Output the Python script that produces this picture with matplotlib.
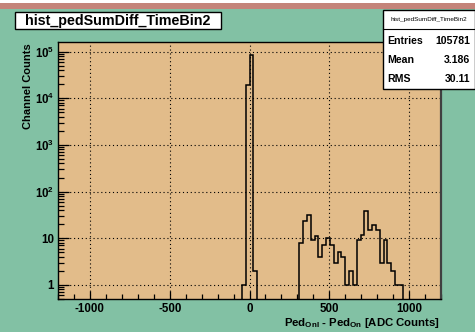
import numpy as np
import matplotlib
matplotlib.use('Agg')
import matplotlib.pyplot as plt
from matplotlib.patches import Rectangle
from matplotlib.lines import Line2D
from matplotlib.ticker import FixedLocator, FixedFormatter, LogLocator, NullFormatter, MultipleLocator

# histogram binning: 100 bins from -1200 to 1200 (width 24)
x_min, x_max, n_bins = -1200, 1200, 100

# counts around zero, first bin starts at -48
peak_start = -48
peak_counts = [1, 19000, 86000, 2]

# second bump, first bin starts at 312
bump_start = 312
bump_counts = [8, 23, 32, 9, 11, 4, 7, 10, 7, 3, 5, 4, 1, 2, 1, 9,
               12, 39, 15, 19, 15, 3, 9, 3, 2, 1, 1]

hist_name = "hist_pedSumDiff_TimeBin2"
stat_labels = ["Entries", "Mean", "RMS"]
stat_values = ["105781", "3.186", "30.11"]

y_ticks = [1, 10, 100, 1000, 1e4, 1e5]
y_ticklabels = ["1", "10", r"$\mathbf{10^{2}}$", r"$\mathbf{10^{3}}$",
                r"$\mathbf{10^{4}}$", r"$\mathbf{10^{5}}$"]
x_ticks = [-1000, -500, 0, 500, 1000]

BG = '#82c1a4'
FRAME = '#e2bc8a'
STRIP = '#c4847a'

edges = np.linspace(x_min, x_max, n_bins + 1)
width = (x_max - x_min) / n_bins
counts = np.zeros(n_bins)
i0 = int(round((peak_start - x_min) / width))
counts[i0:i0 + len(peak_counts)] = peak_counts
i1 = int(round((bump_start - x_min) / width))
counts[i1:i1 + len(bump_counts)] = bump_counts
# empty bins sit on the bottom of the frame
counts[counts == 0] = 1e-3

plt.rcParams['font.family'] = ['Liberation Sans', 'DejaVu Sans']
plt.rcParams['mathtext.fontset'] = 'custom'
plt.rcParams['mathtext.rm'] = 'Liberation Sans'
plt.rcParams['mathtext.bf'] = 'Liberation Sans:bold'
plt.rcParams['axes.unicode_minus'] = False

fig = plt.figure(figsize=(4.75, 3.32), dpi=100)
fig.patch.set_facecolor(BG)
W, H = 475.0, 332.0

def fx(px):
    return px / W

def fy(py):
    return 1 - py / H

# white top margin and coloured strip
fig.patches.append(Rectangle((0, fy(3)), 1, 3 / H, transform=fig.transFigure,
                             facecolor='white', edgecolor='none'))
fig.patches.append(Rectangle((0, fy(9)), 1, 6 / H, transform=fig.transFigure,
                             facecolor=STRIP, edgecolor='none'))

ax = fig.add_axes([fx(58), fy(299), fx(441) - fx(58), fy(42) - fy(299)])
ax.set_facecolor(FRAME)
ax.stairs(counts, edges, color='black', linewidth=1.1)
ax.set_yscale('log')
ax.set_xlim(x_min, x_max)
ax.set_ylim(0.5, 1.6e5)

ax.xaxis.set_major_locator(FixedLocator(x_ticks))
ax.xaxis.set_minor_locator(MultipleLocator(100))
ax.yaxis.set_major_locator(FixedLocator(y_ticks))
ax.yaxis.set_major_formatter(FixedFormatter(y_ticklabels))
ax.yaxis.set_minor_locator(LogLocator(base=10, subs=np.arange(2, 10)))
ax.yaxis.set_minor_formatter(NullFormatter())

ax.tick_params(which='both', direction='in', top=False, right=False,
               labelsize=8.3, width=0.9)
ax.tick_params(axis='x', which='major', length=6, pad=3)
ax.tick_params(axis='x', which='minor', length=3.5)
ax.tick_params(axis='y', which='major', length=8, pad=3)
ax.tick_params(axis='y', which='minor', length=4.5)
for lab in ax.get_xticklabels() + ax.get_yticklabels():
    lab.set_fontweight('bold')

ax.grid(True, which='major', color='black', linestyle=(0, (1, 2.5)), linewidth=0.8)
for sp in ax.spines.values():
    sp.set_linewidth(1.0)
ax.spines['right'].set_color('#404040')
ax.spines['right'].set_linewidth(1.6)

fig.text(fx(28), fy(86), "Channel Counts", rotation=90, ha='center', va='center',
         fontsize=8, fontweight='bold')
fig.text(fx(440), fy(322.5), r"Ped$_{\mathbf{Onl}}$ - Ped$_{\mathbf{On}}$ [ADC Counts]",
         ha='right', va='center', fontsize=8.2, fontweight='bold')

# title box
fig.patches.append(Rectangle((fx(15), fy(29.3)), fx(221) - fx(15), (29.3 - 11.7) / H,
                             transform=fig.transFigure, facecolor='white',
                             edgecolor='black', linewidth=1.0))
fig.text(fx(118), fy(20.5), hist_name, ha='center', va='center',
         fontsize=10.3, fontweight='bold')

# statistics box
fig.patches.append(Rectangle((fx(383), fy(88.5)), fx(475) - fx(383), (88.5 - 10) / H,
                             transform=fig.transFigure, facecolor='white',
                             edgecolor='black', linewidth=1.0, zorder=5))
fig.lines.append(Line2D([fx(383), fx(475)], [fy(29), fy(29)], transform=fig.transFigure,
                        color='black', linewidth=0.8, zorder=6))
fig.text(fx(429), fy(19.5), hist_name, ha='center', va='center', fontsize=4.6, zorder=7)
for k, (lab, val) in enumerate(zip(stat_labels, stat_values)):
    yy = fy(41.5 + 18.8 * k)
    fig.text(fx(387), yy, lab, ha='left', va='center', fontsize=7.6,
             fontweight='bold', zorder=7)
    fig.text(fx(470), yy, val, ha='right', va='center', fontsize=7.6,
             fontweight='bold', zorder=7)

fig.savefig('out.png', dpi=100, facecolor=fig.get_facecolor())
